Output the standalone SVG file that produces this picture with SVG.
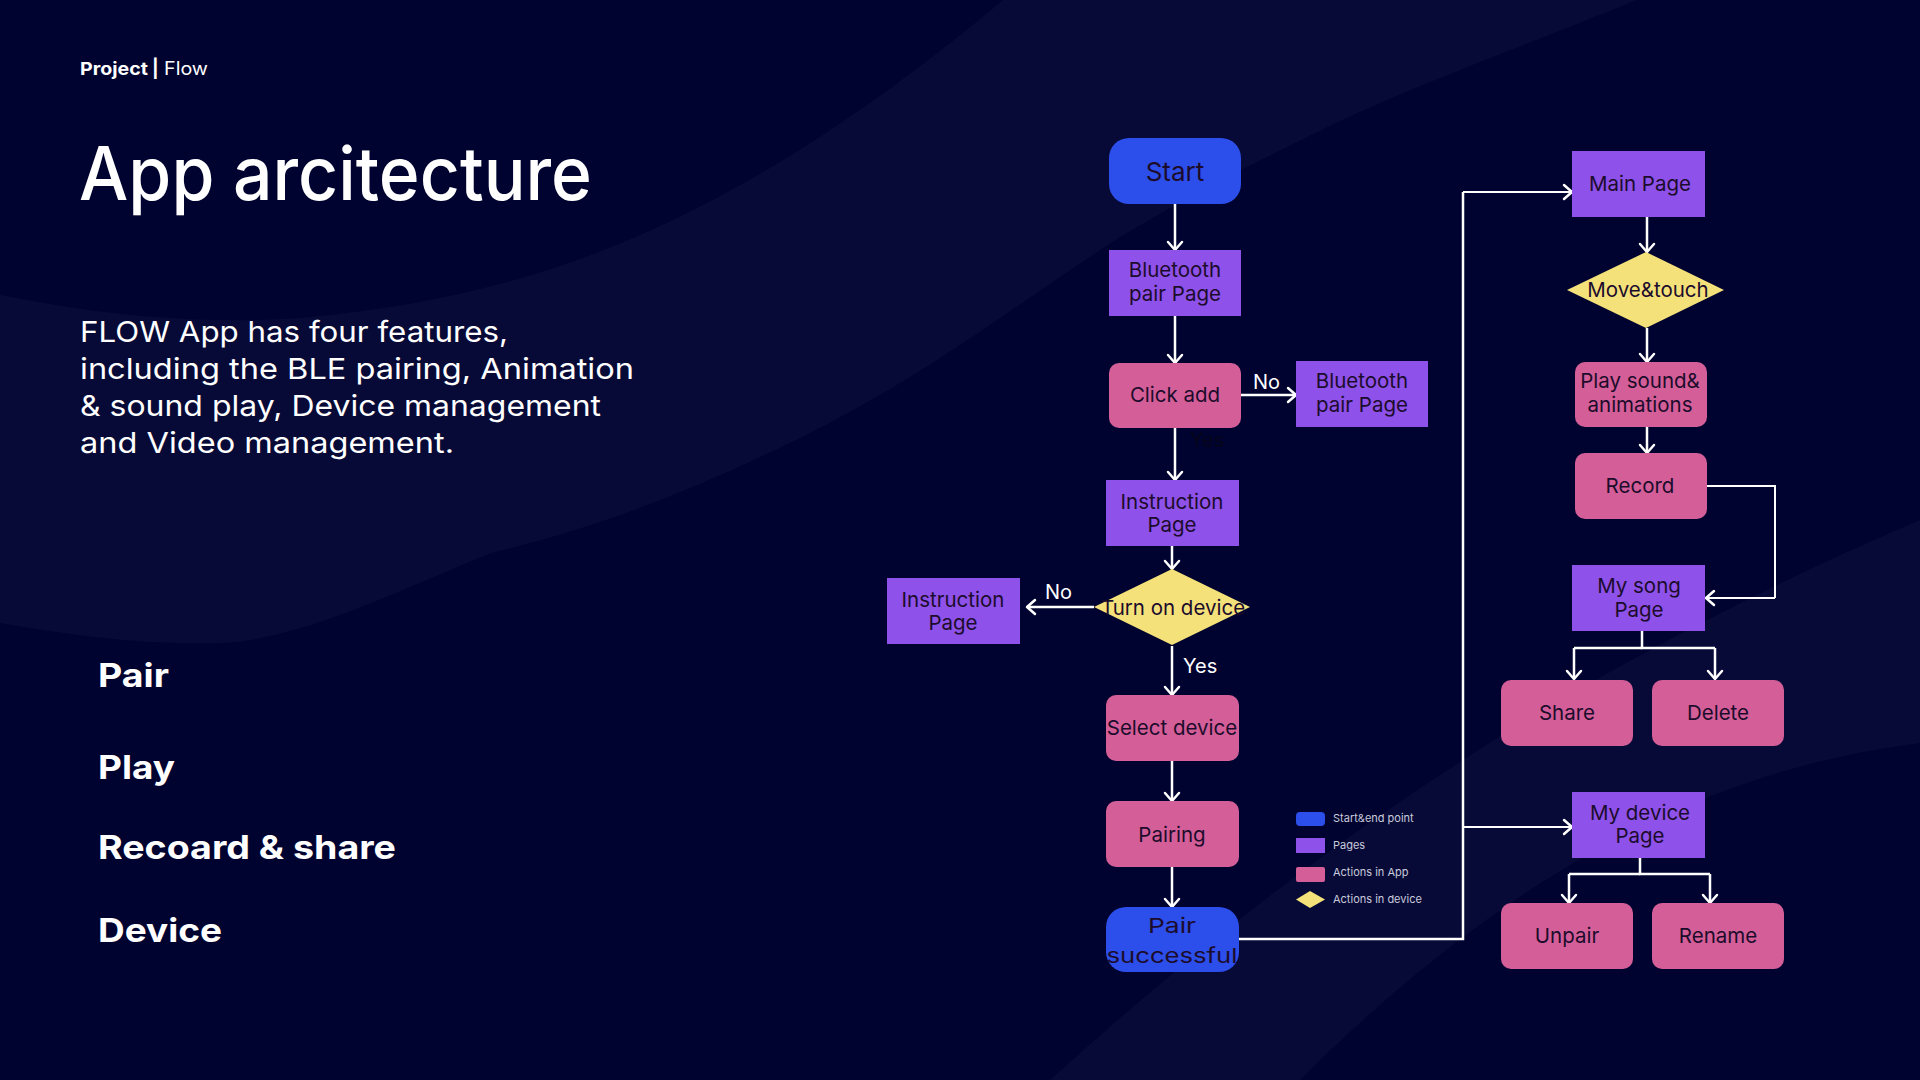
<svg xmlns="http://www.w3.org/2000/svg" width="1920" height="1080" viewBox="0 0 1920 1080">
<defs>
<marker id="arr" markerUnits="userSpaceOnUse" viewBox="-12 -10 14 20" markerWidth="14" markerHeight="20" refX="0" refY="0" orient="auto">
<path d="M-8,-7 L0,0 L-8,7" fill="none" stroke="#ffffff" stroke-width="2.5" stroke-linecap="round" stroke-linejoin="round"/>
</marker>
</defs>
<style>
.bg{fill:#00032f}
.band{fill:#070a37}
.start{fill:#2c4eea}
.page{fill:#8e51e9}
.act{fill:#d45e97}
.dev{fill:#f5e17a}
.nt{font-family:Inter,"Noto Sans","Liberation Sans",sans-serif;font-size:20.5px;fill:#1c0c2c;text-anchor:middle}
.big{font-size:26px}
.wl{font-family:Inter,"Noto Sans","Liberation Sans",sans-serif;font-size:20px;fill:#ffffff}
.leg{font-family:Inter,"Noto Sans","Liberation Sans",sans-serif;font-size:11px;fill:#c9cadb}
.w{font-family:Inter,"Noto Sans","Liberation Sans",sans-serif;fill:#ffffff}
.con{fill:none;stroke:#ffffff;stroke-width:2.5}
.cona{fill:none;stroke:#ffffff;stroke-width:2.5;marker-end:url(#arr)}
</style>
<rect class="bg" x="0" y="0" width="1920" height="1080"/>
<path class="band" d="M0,295 C100,315 200,325 300,318 C450,305 570,270 673,220 C800,160 920,70 1003,0 L1636,0 C1540,40 1440,75 1342,120 C1250,165 1170,205 1100,250 C1010,310 930,370 835,420 C720,480 610,525 491,553 C400,590 300,640 220,643 C140,645 70,635 0,623 Z"/>
<path class="band" d="M1050,1080 C1250,900 1500,700 1920,520 L1920,743 C1700,770 1500,880 1300,1080 Z"/>

<g id="header">
<text class="w" x="80" y="75" font-size="18" font-weight="700" textLength="68" lengthAdjust="spacingAndGlyphs">Project</text>
<text class="w" x="152" y="75" font-size="18" font-weight="700">|</text>
<text class="w" x="164" y="75" font-size="18" font-weight="400" textLength="44" lengthAdjust="spacingAndGlyphs">Flow</text>
<text class="w" x="79" y="200" font-size="74" font-weight="500" textLength="513" lengthAdjust="spacingAndGlyphs">App arcitecture</text>
<text class="w" x="80" y="342" font-size="29" textLength="428" lengthAdjust="spacingAndGlyphs">FLOW App has four features,</text>
<text class="w" x="80" y="379" font-size="29" textLength="554" lengthAdjust="spacingAndGlyphs">including the BLE pairing, Animation</text>
<text class="w" x="80" y="416" font-size="29" textLength="521" lengthAdjust="spacingAndGlyphs">&amp; sound play, Device management</text>
<text class="w" x="80" y="453" font-size="29" textLength="374" lengthAdjust="spacingAndGlyphs">and Video management.</text>
<text class="w" x="98" y="687" font-size="33" font-weight="700" textLength="71" lengthAdjust="spacingAndGlyphs">Pair</text>
<text class="w" x="98" y="779" font-size="33" font-weight="700" textLength="77" lengthAdjust="spacingAndGlyphs">Play</text>
<text class="w" x="98" y="859" font-size="33" font-weight="700" textLength="298" lengthAdjust="spacingAndGlyphs">Recoard &amp; share</text>
<text class="w" x="98" y="942" font-size="33" font-weight="700" textLength="124" lengthAdjust="spacingAndGlyphs">Device</text>
</g>

<g id="connectors">
<path class="cona" d="M1175,204 V250"/>
<path class="cona" d="M1175,316 V363"/>
<path class="cona" d="M1241,395 H1296"/>
<text class="wl" x="1253" y="389">No</text>
<path class="cona" d="M1175,428 V480"/>
<text x="1190" y="447" font-family="Inter,'Noto Sans',sans-serif" font-size="20" fill="#05041a">Yes</text>
<path class="cona" d="M1172,546 V569"/>
<path class="cona" d="M1094,607 H1027"/>
<text class="wl" x="1045" y="599">No</text>
<path class="cona" d="M1172,646 V695"/>
<text class="wl" x="1183" y="673">Yes</text>
<path class="cona" d="M1172,761 V801"/>
<path class="cona" d="M1172,867 V907"/>
<path class="con" d="M1239,939 H1463 V192"/>
<path class="cona" d="M1463,192 H1572" style="stroke-width:2"/>
<path class="cona" d="M1463,827 H1572" style="stroke-width:2"/>
<path class="cona" d="M1647,217 V252"/>
<path class="cona" d="M1647,328 V362"/>
<path class="cona" d="M1647,427 V453"/>
<path class="con" d="M1707,486 H1775 V598" style="stroke-width:2"/>
<path class="cona" d="M1775,598 H1706" style="stroke-width:2"/>
<path class="con" d="M1642,631 V648 H1715"/>
<path class="con" d="M1642,648 H1574"/>
<path class="cona" d="M1574,648 V679"/>
<path class="cona" d="M1715,648 V679"/>
<path class="con" d="M1640,858 V874 H1710"/>
<path class="con" d="M1640,874 H1569"/>
<path class="cona" d="M1569,874 V903"/>
<path class="cona" d="M1710,874 V903"/>
</g>

<g id="start">
<rect class="start" x="1109" y="138" width="132" height="66" rx="20"/>
<text class="nt big" x="1175" y="181">Start</text>
</g>
<g id="bt-pair-page">
<rect class="page" x="1109" y="250" width="132" height="66"/>
<text class="nt" x="1175" y="277">Bluetooth</text>
<text class="nt" x="1175" y="301">pair Page</text>
</g>
<g id="click-add">
<rect class="act" x="1109" y="363" width="132" height="65" rx="10"/>
<text class="nt" x="1175" y="402">Click add</text>
</g>
<g id="bt-pair-page-2">
<rect class="page" x="1296" y="361" width="132" height="66"/>
<text class="nt" x="1362" y="388">Bluetooth</text>
<text class="nt" x="1362" y="412">pair Page</text>
</g>
<g id="instruction-page">
<rect class="page" x="1106" y="480" width="133" height="66"/>
<text class="nt" x="1172" y="509">Instruction</text>
<text class="nt" x="1172" y="532">Page</text>
</g>
<g id="turn-on-device">
<polygon class="dev" points="1172,569 1250,607 1172,645 1094,607"/>
<text class="nt" x="1173" y="615">Turn on device</text>
</g>
<g id="instruction-page-2">
<rect class="page" x="887" y="578" width="133" height="66"/>
<text class="nt" x="953" y="607">Instruction</text>
<text class="nt" x="953" y="630">Page</text>
</g>
<g id="select-device">
<rect class="act" x="1106" y="695" width="133" height="66" rx="10"/>
<text class="nt" x="1172" y="735">Select device</text>
</g>
<g id="pairing">
<rect class="act" x="1106" y="801" width="133" height="66" rx="10"/>
<text class="nt" x="1172" y="842">Pairing</text>
</g>
<g id="pair-successful">
<rect class="start" x="1106" y="907" width="133" height="65" rx="20"/>
<text class="nt" x="1172" y="933" font-size="30" textLength="48" lengthAdjust="spacingAndGlyphs">Pair</text>
<text class="nt" x="1172" y="963" font-size="30" textLength="131" lengthAdjust="spacingAndGlyphs">successful</text>
</g>

<g id="main-page">
<rect class="page" x="1572" y="151" width="133" height="66"/>
<text class="nt" x="1640" y="191">Main Page</text>
</g>
<g id="move-touch">
<polygon class="dev" points="1646,252 1724,290 1646,328 1567,290"/>
<text class="nt" x="1648" y="297">Move&amp;touch</text>
</g>
<g id="play-sound">
<rect class="act" x="1575" y="362" width="132" height="65" rx="10"/>
<text class="nt" x="1640" y="388">Play sound&amp;</text>
<text class="nt" x="1640" y="412">animations</text>
</g>
<g id="record">
<rect class="act" x="1575" y="453" width="132" height="66" rx="10"/>
<text class="nt" x="1640" y="493">Record</text>
</g>
<g id="my-song-page">
<rect class="page" x="1572" y="565" width="133" height="66"/>
<text class="nt" x="1639" y="593">My song</text>
<text class="nt" x="1639" y="617">Page</text>
</g>
<g id="share">
<rect class="act" x="1501" y="680" width="132" height="66" rx="10"/>
<text class="nt" x="1567" y="720">Share</text>
</g>
<g id="delete">
<rect class="act" x="1652" y="680" width="132" height="66" rx="10"/>
<text class="nt" x="1718" y="720">Delete</text>
</g>
<g id="my-device-page">
<rect class="page" x="1572" y="792" width="133" height="66"/>
<text class="nt" x="1640" y="820">My device</text>
<text class="nt" x="1640" y="843">Page</text>
</g>
<g id="unpair">
<rect class="act" x="1501" y="903" width="132" height="66" rx="10"/>
<text class="nt" x="1567" y="943">Unpair</text>
</g>
<g id="rename">
<rect class="act" x="1652" y="903" width="132" height="66" rx="10"/>
<text class="nt" x="1718" y="943">Rename</text>
</g>

<g id="legend">
<rect class="start" x="1296" y="812" width="29" height="14" rx="4"/>
<text class="leg" x="1333" y="822">Start&amp;end point</text>
<rect class="page" x="1296" y="838" width="29" height="15"/>
<text class="leg" x="1333" y="849">Pages</text>
<rect class="act" x="1296" y="867" width="29" height="15" rx="2"/>
<text class="leg" x="1333" y="876">Actions in App</text>
<polygon class="dev" points="1310,891 1325,899.5 1310,908 1296,899.5"/>
<text class="leg" x="1333" y="903">Actions in device</text>
</g>
</svg>
